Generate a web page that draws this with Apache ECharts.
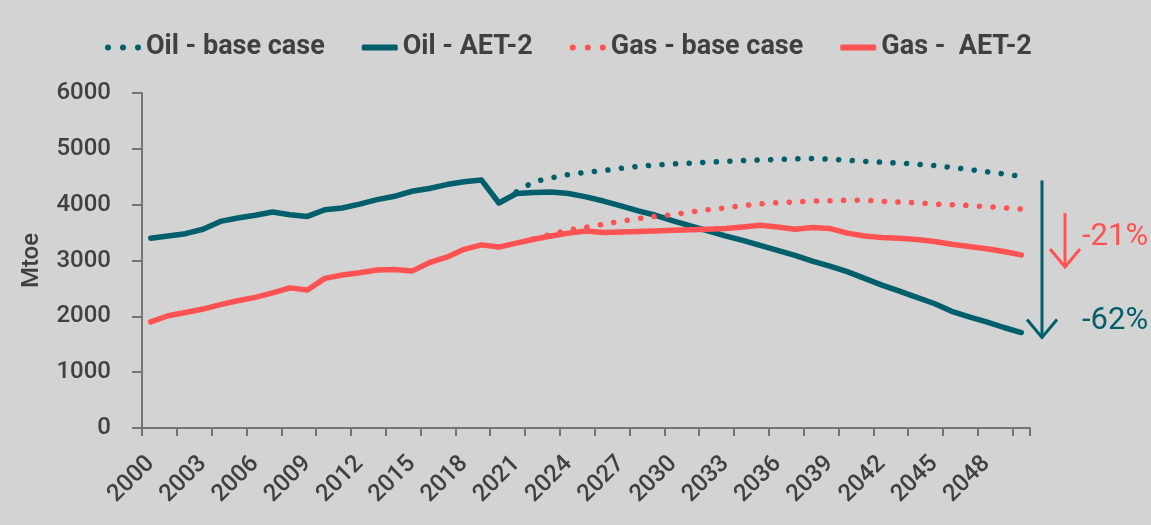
<!DOCTYPE html>
<html>
<head>
<meta charset="utf-8">
<script src="https://cdn.jsdelivr.net/npm/echarts@6/dist/echarts.min.js"></script>
<style>
html, body { margin: 0; padding: 0; background: #d3d3d3; }
#chart { width: 1151px; height: 525px; }
</style>
</head>
<body>
<div id="chart"></div>
<script>
// years on the category axis
const years = [
  '2000','2001','2002','2003','2004','2005','2006','2007','2008','2009',
  '2010','2011','2012','2013','2014','2015','2016','2017','2018','2019',
  '2020','2021','2022','2023','2024','2025','2026','2027','2028','2029',
  '2030','2031','2032','2033','2034','2035','2036','2037','2038','2039',
  '2040','2041','2042','2043','2044','2045','2046','2047','2048','2049','2050'
];

// Mtoe
const oilAet2 = [
  3400, 3440, 3480, 3560, 3700, 3760, 3810, 3870, 3820, 3790,
  3910, 3940, 4010, 4090, 4150, 4240, 4290, 4360, 4410, 4440,
  4030, 4200, 4220, 4225, 4200, 4140, 4065, 3980, 3890, 3810,
  3710, 3620, 3530, 3440, 3360, 3270, 3180, 3090, 2990, 2900,
  2800, 2680, 2560, 2450, 2340, 2230, 2090, 1990, 1900, 1800, 1710
];
const oilBase = [
  null, null, null, null, null, null, null, null, null, null,
  null, null, null, null, null, null, null, null, null, null,
  null, 4230, 4410, 4480, 4540, 4580, 4610, 4650, 4685, 4710,
  4730, 4745, 4760, 4775, 4790, 4800, 4810, 4820, 4825, 4815,
  4795, 4775, 4760, 4745, 4725, 4700, 4665, 4630, 4590, 4550, 4505
];
const gasAet2 = [
  1900, 2010, 2070, 2130, 2210, 2280, 2340, 2420, 2510, 2470,
  2680, 2740, 2780, 2830, 2840, 2810, 2960, 3060, 3200, 3280,
  3240, 3310, 3380, 3440, 3490, 3530, 3500, 3510, 3520, 3530,
  3540, 3550, 3560, 3575, 3600, 3630, 3600, 3560, 3590, 3575,
  3490, 3440, 3410, 3400, 3375, 3340, 3290, 3250, 3210, 3160, 3100
];
const gasBase = [
  null, null, null, null, null, null, null, null, null, null,
  null, null, null, null, null, null, null, null, null, null,
  null, null, 3390, 3470, 3545, 3595, 3650, 3700, 3750, 3790,
  3820, 3870, 3910, 3940, 3985, 4015, 4035, 4050, 4065, 4070,
  4080, 4080, 4060, 4045, 4035, 4010, 4000, 3985, 3965, 3945, 3920
];

const oilChange = '-62%';
const gasChange = '-21%';

const TEAL = '#005f6b';
const RED = '#ff5252';
const TEXT = '#404040';
const AXIS = '#747474';
const FONT = 'Roboto';

// legend icons: three round dots for the base cases, a thick bar for AET-2
const DOTS_ICON = 'path://M0,3a3,3 0 1,0 6,0a3,3 0 1,0 -6,0z' +
  'M15,3a3,3 0 1,0 6,0a3,3 0 1,0 -6,0z' +
  'M30,3a3,3 0 1,0 6,0a3,3 0 1,0 -6,0z';

function lineSeries(name, data, color, dotted) {
  return {
    name: name,
    type: 'line',
    data: data,
    symbol: 'none',
    lineStyle: {
      color: color,
      width: 5.5,
      type: dotted ? [0.1, 13.5] : 'solid',
      cap: 'round',
      join: 'round'
    },
    itemStyle: { color: color },
    emphasis: { disabled: true }
  };
}

const chart = echarts.init(document.getElementById('chart'));

chart.setOption({
  backgroundColor: '#d3d3d3',
  animation: false,
  textStyle: { fontFamily: FONT },
  legend: {
    left: 100,
    top: 29,
    itemGap: 37,
    itemWidth: 36,
    itemHeight: 6,
    textStyle: { fontSize: 27, fontWeight: 'bold', color: TEXT, fontFamily: FONT },
    data: [
      { name: 'Oil - base case', icon: DOTS_ICON },
      { name: 'Oil - AET-2', icon: 'roundRect' },
      { name: 'Gas - base case', icon: DOTS_ICON },
      { name: 'Gas -  AET-2', icon: 'roundRect' }
    ]
  },
  grid: { left: 142, right: 121, top: 93, bottom: 97 },
  xAxis: {
    type: 'category',
    data: years,
    boundaryGap: true,
    axisLine: { lineStyle: { color: AXIS, width: 2 } },
    axisTick: { show: true, interval: 1, length: 8, lineStyle: { color: AXIS, width: 2 } },
    axisLabel: { interval: 2, rotate: 45, fontSize: 24, fontWeight: 500, color: TEXT, margin: 32, fontFamily: FONT },
    splitLine: { show: false }
  },
  yAxis: {
    type: 'value',
    min: 0,
    max: 6000,
    interval: 1000,
    name: 'Mtoe',
    nameLocation: 'middle',
    nameGap: 98,
    nameTextStyle: { fontSize: 24, fontWeight: 500, color: TEXT, fontFamily: FONT },
    axisLine: { show: true, lineStyle: { color: AXIS, width: 2 } },
    axisTick: { show: true, length: 10, lineStyle: { color: AXIS, width: 2 } },
    axisLabel: { fontSize: 24, fontWeight: 500, color: TEXT, margin: 31, fontFamily: FONT,
      formatter: (v) => String(v) },
    splitLine: { show: false }
  },
  series: [
    lineSeries('Oil - base case', oilBase, TEAL, true),
    lineSeries('Oil - AET-2', oilAet2, TEAL, false),
    lineSeries('Gas - base case', gasBase, RED, true),
    lineSeries('Gas -  AET-2', gasAet2, RED, false)
  ]
});

// arrows showing the 2050 drop, placed from the last data values
const last = years.length - 1;
const toPx = (v) => chart.convertToPixel({ xAxisIndex: 0, yAxisIndex: 0 }, [last, v]);
const gridRight = 1151 - 121;

function arrow(x, y1, y2, color) {
  return [
    { type: 'line', shape: { x1: x, y1: y1, x2: x, y2: y2 }, style: { stroke: color, lineWidth: 3 } },
    { type: 'polyline', shape: { points: [[x - 15, y2 - 18], [x, y2], [x + 15, y2 - 18]] },
      style: { stroke: color, lineWidth: 3, fill: null } }
  ];
}

const oilTop = toPx(oilBase[last])[1] + 4;
const oilTip = toPx(oilAet2[last])[1] + 5;
const gasTop = toPx(gasBase[last])[1] + 4;
const gasTip = toPx(gasAet2[last])[1] + 12;

chart.setOption({
  graphic: [
    ...arrow(gridRight + 12, oilTop, oilTip, TEAL),
    ...arrow(gridRight + 35, gasTop, gasTip, RED),
    { type: 'text', left: gridRight + 52, top: (gasTop + gasTip) / 2 - 18,
      style: { text: gasChange, fill: RED, font: '31px Roboto' } },
    { type: 'text', left: gridRight + 52, top: oilTip - 32,
      style: { text: oilChange, fill: TEAL, font: '31px Roboto' } }
  ]
});
</script>
</body>
</html>
